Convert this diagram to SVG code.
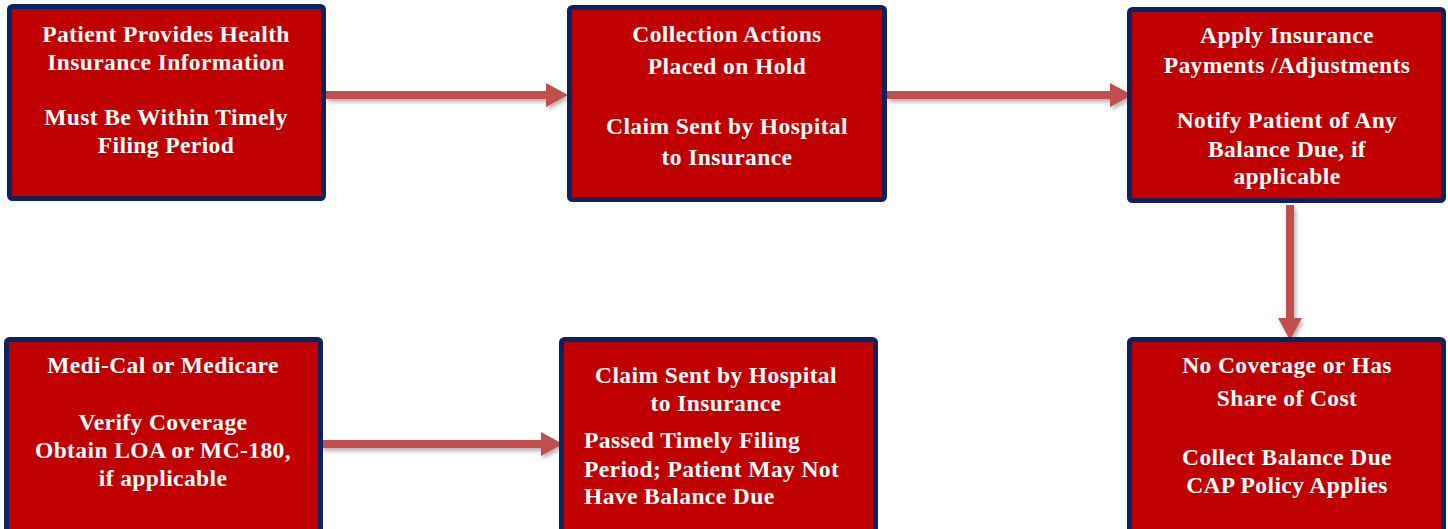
<svg xmlns="http://www.w3.org/2000/svg" width="1448" height="529" viewBox="0 0 1448 529">
<defs>
<style>
.box{fill:#c00000;stroke:#0e2260;stroke-width:5}
.t{font-family:"Liberation Serif","Times New Roman",serif;font-weight:bold;font-size:23.5px;fill:#ffffff;letter-spacing:0.4px}
.c{text-anchor:middle}
.conn{stroke:#c0504d;stroke-width:8;fill:none}
</style>
<marker id="ah" markerUnits="userSpaceOnUse" markerWidth="22" markerHeight="24" refX="0" refY="12" orient="auto" overflow="visible">
<path d="M0,0 L22,12 L0,24 Z" fill="#c0504d"/>
</marker>
<filter id="sh" x="-10%" y="-50%" width="120%" height="200%">
<feDropShadow dx="2" dy="3" stdDeviation="2" flood-color="#000" flood-opacity="0.3"/>
</filter>
</defs>
<rect width="1448" height="529" fill="#ffffff"/>
<g id="connectors" filter="url(#sh)">
<line class="conn" x1="326" y1="95" x2="546" y2="95" marker-end="url(#ah)"/>
<line class="conn" x1="887" y1="95" x2="1110" y2="95" marker-end="url(#ah)"/>
<line class="conn" x1="321" y1="444" x2="541" y2="444" marker-end="url(#ah)"/>
<line class="conn" x1="1290" y1="205" x2="1290" y2="318" marker-end="url(#ah)"/>
</g>
<g id="node1">
<rect class="box" x="9.5" y="6.5" width="314" height="192" rx="3"/>
<text class="t c" x="166" y="42">Patient Provides Health</text>
<text class="t c" x="166" y="70">Insurance Information</text>
<text class="t c" x="166" y="125">Must Be Within Timely</text>
<text class="t c" x="166" y="153">Filing Period</text>
</g>
<g id="node2">
<rect class="box" x="569.5" y="7.5" width="315" height="192" rx="3"/>
<text class="t c" x="727" y="42">Collection Actions</text>
<text class="t c" x="727" y="74">Placed on Hold</text>
<text class="t c" x="727" y="134">Claim Sent by Hospital</text>
<text class="t c" x="727" y="165">to Insurance</text>
</g>
<g id="node3">
<rect class="box" x="1129.5" y="9.5" width="314" height="191" rx="3"/>
<text class="t c" x="1287" y="43">Apply Insurance</text>
<text class="t c" x="1287" y="73">Payments /Adjustments</text>
<text class="t c" x="1287" y="128">Notify Patient of Any</text>
<text class="t c" x="1287" y="157">Balance Due, if</text>
<text class="t c" x="1287" y="184">applicable</text>
</g>
<g id="node4">
<rect class="box" x="6.5" y="339.5" width="314" height="200" rx="3"/>
<text class="t c" x="163" y="373">Medi-Cal or Medicare</text>
<text class="t c" x="163" y="430">Verify Coverage</text>
<text class="t c" x="163" y="458">Obtain LOA or MC-180,</text>
<text class="t c" x="163" y="486">if applicable</text>
</g>
<g id="node5">
<rect class="box" x="561.5" y="339.5" width="314" height="200" rx="3"/>
<text class="t c" x="716" y="383">Claim Sent by Hospital</text>
<text class="t c" x="716" y="411">to Insurance</text>
<text class="t" x="584" y="448">Passed Timely Filing</text>
<text class="t" x="584" y="477">Period; Patient May Not</text>
<text class="t" x="584" y="504">Have Balance Due</text>
</g>
<g id="node6">
<rect class="box" x="1129.5" y="339.5" width="314" height="200" rx="3"/>
<text class="t c" x="1287" y="373">No Coverage or Has</text>
<text class="t c" x="1287" y="406">Share of Cost</text>
<text class="t c" x="1287" y="465">Collect Balance Due</text>
<text class="t c" x="1287" y="493">CAP Policy Applies</text>
</g>
</svg>
